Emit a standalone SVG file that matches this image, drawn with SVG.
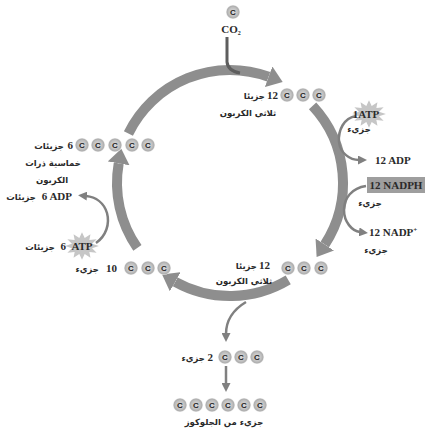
<svg xmlns="http://www.w3.org/2000/svg" xmlns:xlink="http://www.w3.org/1999/xlink" width="430" height="436" viewBox="0 0 430 436">
<style>
.band{fill:none;stroke:#8e8e8e;stroke-width:10}
.thin{fill:none;stroke:#808080;stroke-width:2.5}
.lat{font-family:"Liberation Serif",serif;font-weight:bold;font-size:11px;fill:#2a2a2a}
.ar{font-family:"DejaVu Sans",sans-serif;font-weight:bold;font-size:8.5px;fill:#2a2a2a}
.c{font-family:"Liberation Sans",sans-serif;font-weight:bold;font-size:8px;fill:#222;text-anchor:middle}
.at{fill:url(#cg)}
.star{fill:#c6c6c6}
.mid{text-anchor:middle}
.end{text-anchor:end}
.start{text-anchor:start}
</style>
<defs>
<radialGradient id="cg">
<stop offset="0" stop-color="#dadada"/>
<stop offset="0.6" stop-color="#c2c2c2"/>
<stop offset="0.85" stop-color="#aeaeae"/>
<stop offset="1" stop-color="#e6e6e6"/>
</radialGradient>
<marker id="big" markerUnits="userSpaceOnUse" markerWidth="16" markerHeight="22" refX="0" refY="11" orient="auto" viewBox="0 0 16 22"><path d="M0,0 L15,11 L0,22 z" fill="#8e8e8e"/></marker>
<marker id="sm" markerUnits="userSpaceOnUse" markerWidth="9" markerHeight="9" refX="1" refY="4.5" orient="auto" viewBox="0 0 9 9"><path d="M0,0 L9,4.5 L0,9 z" fill="#808080"/></marker>
<polygon id="star" points="13,0 7.73,2.07 11.26,6.5 5.66,5.66 6.5,11.26 2.07,7.73 0,13 -2.07,7.73 -6.5,11.26 -5.66,5.66 -11.26,6.5 -7.73,2.07 -13,0 -7.73,-2.07 -11.26,-6.5 -5.66,-5.66 -6.5,-11.26 -2.07,-7.73 0,-13 2.07,-7.73 6.5,-11.26 5.66,-5.66 11.26,-6.5 7.73,-2.07"/>
</defs>
<rect width="430" height="436" fill="#ffffff"/>

<g id="connectors">
<path class="band" d="M128.4,133.5 A113,113 0 0 1 268.6,76.8" marker-end="url(#big)"/>
<path class="band" d="M312.6,105.9 A113,113 0 0 1 324.8,244.5" marker-end="url(#big)"/>
<path class="band" d="M288.2,279.9 A113,113 0 0 1 175.2,281.8" marker-end="url(#big)"/>
<path class="band" d="M137.4,247.8 A113,113 0 0 1 118.7,163.4" marker-end="url(#big)"/>
<path d="M227,37 V62 Q228,71 240,73" fill="none" stroke="#5e5e5e" stroke-width="3"/>
<path class="thin" d="M356,116 C344,118 338,130 339,142 C340,153 350,160 359,160" marker-end="url(#sm)"/>
<path class="thin" d="M366,186 C352,188 344,198 344,210 C344,222 352,231 360,232" marker-end="url(#sm)"/>
<path class="thin" d="M96,243 C106,236 110,224 107,213 C104,203 96,197 86,196" marker-end="url(#sm)"/>
<path class="thin" d="M246,302 C236,308 226,318 226,334" marker-end="url(#sm)"/>
<path class="thin" d="M226,366 V384" marker-end="url(#sm)"/>
</g>

<g id="co2">
<circle class="at" cx="233" cy="12" r="7"/><text class="c" x="233" y="15">C</text>
<text class="lat mid" x="231" y="33">CO<tspan font-size="6" dy="2">2</tspan></text>
</g>

<g id="pga-top">
<circle class="at" cx="287" cy="95" r="7"/><text class="c" x="287" y="98">C</text>
<circle class="at" cx="303" cy="95" r="7"/><text class="c" x="303" y="98">C</text>
<circle class="at" cx="319" cy="95" r="7"/><text class="c" x="319" y="98">C</text>
<text class="lat end" x="278" y="99">12</text>
<text class="ar end" x="265" y="99">جزيئا</text>
<text class="ar mid" x="248" y="116">ثلاثي الكربون</text>
</g>

<g id="atp-right">
<use href="#star" class="star" transform="translate(369,114) scale(1.3,1.05)"/>
<text class="lat mid" x="366" y="118">1ATP</text>
<text class="ar mid" x="359" y="132">جزيء</text>
</g>

<g id="adp-right">
<text class="lat start" x="375" y="164">12 ADP</text>
</g>

<g id="nadph">
<rect x="367" y="177" width="58" height="16" fill="#9e9e9e"/>
<text class="lat mid" x="396" y="189">12 NADPH</text>
<text class="ar mid" x="370" y="206">جزيء</text>
</g>

<g id="nadp">
<text class="lat start" x="369" y="236">12 NADP<tspan font-size="7" dy="-4">+</tspan></text>
<text class="ar mid" x="376" y="253">جزيء</text>
</g>

<g id="pga-bottom">
<circle class="at" cx="288" cy="268" r="7"/><text class="c" x="288" y="271">C</text>
<circle class="at" cx="304" cy="268" r="7"/><text class="c" x="304" y="271">C</text>
<circle class="at" cx="321" cy="268" r="7"/><text class="c" x="321" y="271">C</text>
<text class="lat end" x="270" y="269">12</text>
<text class="ar end" x="257" y="269">جزيئا</text>
<text class="ar mid" x="244" y="284">ثلاثي الكربون</text>
</g>

<g id="g3p-10">
<circle class="at" cx="131" cy="268" r="7"/><text class="c" x="131" y="271">C</text>
<circle class="at" cx="148" cy="268" r="7"/><text class="c" x="148" y="271">C</text>
<circle class="at" cx="164" cy="268" r="7"/><text class="c" x="164" y="271">C</text>
<text class="lat end" x="117" y="272">10</text>
<text class="ar end" x="99" y="272">جزيء</text>
</g>

<g id="atp-left">
<use href="#star" class="star" transform="translate(82,246) scale(1.3,1.05)"/>
<text class="lat mid" x="82" y="250">ATP</text>
<text class="lat end" x="66" y="250">6</text>
<text class="ar end" x="55" y="250">جزيئات</text>
</g>

<g id="adp-left">
<text class="lat end" x="72" y="200">6 ADP</text>
<text class="ar end" x="36" y="200">جزيئات</text>
</g>

<g id="rubp">
<circle class="at" cx="82" cy="145" r="7"/><text class="c" x="82" y="148">C</text>
<circle class="at" cx="98" cy="145" r="7"/><text class="c" x="98" y="148">C</text>
<circle class="at" cx="115" cy="145" r="7"/><text class="c" x="115" y="148">C</text>
<circle class="at" cx="132" cy="145" r="7"/><text class="c" x="132" y="148">C</text>
<circle class="at" cx="148" cy="145" r="7"/><text class="c" x="148" y="148">C</text>
<text class="lat end" x="73" y="149">6</text>
<text class="ar end" x="64" y="149">جزيئات</text>
<text class="ar mid" x="53" y="166">خماسية ذرات</text>
<text class="ar mid" x="52" y="183">الكربون</text>
</g>

<g id="g3p-2">
<circle class="at" cx="225" cy="357" r="7"/><text class="c" x="225" y="360">C</text>
<circle class="at" cx="241" cy="357" r="7"/><text class="c" x="241" y="360">C</text>
<circle class="at" cx="257" cy="357" r="7"/><text class="c" x="257" y="360">C</text>
<text class="lat end" x="213" y="361">2</text>
<text class="ar end" x="205" y="361">جزيء</text>
</g>

<g id="glucose">
<circle class="at" cx="180" cy="405" r="7"/><text class="c" x="180" y="408">C</text>
<circle class="at" cx="196" cy="405" r="7"/><text class="c" x="196" y="408">C</text>
<circle class="at" cx="212" cy="405" r="7"/><text class="c" x="212" y="408">C</text>
<circle class="at" cx="228" cy="405" r="7"/><text class="c" x="228" y="408">C</text>
<circle class="at" cx="244" cy="405" r="7"/><text class="c" x="244" y="408">C</text>
<circle class="at" cx="260" cy="405" r="7"/><text class="c" x="260" y="408">C</text>
<text class="ar mid" x="224" y="425">جزيء من الجلوكوز</text>
</g>
</svg>
